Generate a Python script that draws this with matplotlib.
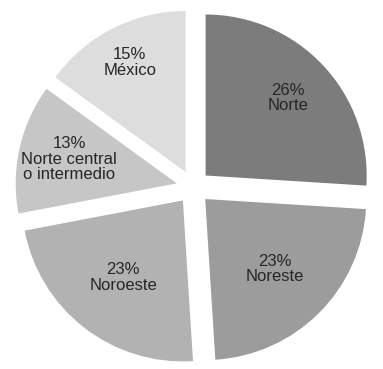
import matplotlib
matplotlib.use("Agg")
import matplotlib.pyplot as plt
import numpy as np

regions = ["Norte", "Noreste", "Noroeste", "Norte central\no intermedio", "México"]
shares = [26, 23, 23, 13, 15]
colors = ["#7c7c7c", "#9c9c9c", "#b2b2b2", "#c6c6c6", "#dddddd"]

plt.rcParams['font.family'] = ['Liberation Sans', 'DejaVu Sans']

fig = plt.figure(figsize=(3.83, 3.69), dpi=100)
ax = fig.add_axes([0, 0, 1, 1])

explode = [0.105] * len(shares)
wedges, _ = ax.pie(shares, colors=colors, startangle=90, counterclock=False,
                   explode=explode, radius=1.0,
                   wedgeprops=dict(edgecolor='none'))

# label distance from centre, per slice
label_r = [0.81, 0.72, 0.71, 0.79, 0.87]
for w, s, name, r in zip(wedges, shares, regions, label_r):
    ang = np.deg2rad((w.theta1 + w.theta2) / 2)
    ax.text(r * np.cos(ang), r * np.sin(ang), f"{s}%\n{name}",
            ha='center', va='center', fontsize=12, color='#262626',
            linespacing=1.05)

ax.set_aspect('auto')
ax.set_xlim(-1.20, 1.178)
ax.set_ylim(-1.130, 1.162)
ax.axis('off')

fig.savefig("out.png", dpi=100)
